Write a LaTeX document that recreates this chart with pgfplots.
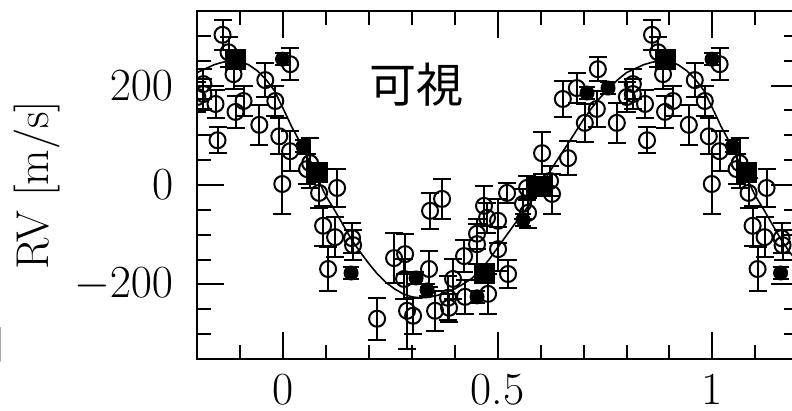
\RequirePackage{fix-cm}
\documentclass[border=0pt]{standalone}
\usepackage{fontspec}
\usepackage{pgfplots}
\usepackage{pgfplotstable}
\pgfplotsset{compat=1.18}
\newfontfamily\cjk{Noto Sans CJK JP}
\newcommand\bigfont{\fontsize{23}{28}\selectfont}

\pgfplotstableread{
x y
-0.20 226
-0.18 234
-0.16 242
-0.14 247
-0.12 250
-0.10 248
-0.08 242
-0.06 230
-0.04 213
-0.02 190
0.00 155
0.02 118
0.04 86
0.06 50
0.08 14
0.10 -22
0.12 -50
0.14 -80
0.16 -110
0.18 -135
0.20 -158
0.22 -179
0.24 -196
0.26 -209
0.28 -219
0.30 -225
0.32 -227
0.34 -226
0.36 -222
0.38 -216
0.40 -209
0.42 -199
0.44 -188
0.46 -171
0.48 -150
0.50 -126
0.52 -102
0.54 -78
0.56 -56
0.58 -31
0.60 -4
0.62 25
0.64 52
0.66 78
0.68 105
0.70 132
0.72 156
0.74 177
0.76 195
0.78 212
0.80 226
0.82 234
0.84 242
0.86 247
0.88 250
0.90 248
0.92 242
0.94 230
0.96 213
0.98 190
1.00 155
1.02 118
1.04 86
1.06 50
1.08 14
1.10 -22
1.12 -50
1.14 -80
1.16 -110
1.18 -135
1.20 -158
}\curve

\pgfplotstableread{
x y e
0.0168 243 32
0.0168 68 40
0.0633 44 50
0.0563 32 30
0.0843 -16 30
0.1262 -6 38
0.0936 -82 40
0.1215 -105 40
0.1611 -107 30
0.1634 -121 30
0.1052 -169 44
0.2193 -269 42
0.2588 -147 50
0.2845 -139 40
0.2821 -189 40
0.2891 -253 76
0.3031 -263 36
0.3403 -169 36
0.3426 -52 36
0.3706 -28 40
0.3543 -253 40
0.3846 -227 44
0.3869 -247 28
0.3962 -189 40
0.4218 -143 32
0.4241 -225 34
0.4520 -119 40
0.4520 -98 30
0.4683 -42 40
0.4753 -66 30
0.5009 -72 44
0.4777 -219 40
0.5009 -129 44
0.5242 -179 28
0.5219 -16 20
0.5591 -38 30
0.5708 -56 30
0.5684 -6 24
0.6220 8 30
0.6266 -18 40
0.6034 64 42
0.6639 54 34
0.6518 173 36
0.6844 195 30
0.7333 233 24
0.7309 153 36
0.7030 125 38
0.7775 125 40
0.8148 203 30
0.8148 183 30
0.8008 177 30
0.8431 163 28
0.8478 90 26
0.8594 302 30
0.8734 267 30
0.8850 223 30
0.9084 169 30
0.8897 147 32
0.9451 121 40
0.9590 211 34
0.9823 169 30
0.9916 98 36
0.9986 2 60
1.0168 243 32
1.0168 68 40
1.0633 44 50
1.0563 32 30
1.0843 -16 30
1.1262 -6 38
1.0936 -82 40
1.1215 -105 40
1.1611 -107 30
1.1634 -121 30
1.1052 -169 44
-0.1852 203 30
-0.1852 183 30
-0.1992 177 30
-0.1569 163 28
-0.1522 90 26
-0.1406 302 30
-0.1266 267 30
-0.1150 223 30
-0.0916 169 30
-0.1103 147 32
-0.0549 121 40
-0.0410 211 34
-0.0177 169 30
-0.0084 98 36
-0.0014 2 60
}\opendata

\pgfplotstableread{
x y e
0.0470 78 12
0.1587 -177 12
0.3101 -187 12
0.3357 -211 12
0.4520 -225 12
0.5592 -70 12
0.7081 185 12
0.7570 195 12
0.9993 253 12
1.0470 78 12
1.1587 -177 12
-0.0007 253 12
}\filleddata

\pgfplotstableread{
x y
0.0797 26
0.4683 -177
0.5940 -2
0.8897 253
1.0797 26
-0.1103 253
}\squaredata

\begin{document}
\begin{tikzpicture}
\useasboundingbox (-98.5pt,-26pt) rectangle (297.5pt,179.5pt);
\clip (-98.5pt,-26pt) rectangle (297.5pt,179.5pt);
\begin{axis}[
  at={(0pt,0pt)}, anchor=south west,
  scale only axis,
  width=300.65pt, height=174pt,
  xmin=-0.2, xmax=1.2, ymin=-350, ymax=350,
  xtick={0,0.5,1}, xticklabels={0,0.5,1},
  ytick={-200,0,200},
  minor xtick={-0.2,-0.1,...,1.21},
  minor ytick={-350,-300,...,350},
  tick align=inside,
  xtick pos=both, ytick pos=both,
  major tick length=13.5pt, minor tick length=7pt,
  every tick/.style={black, line width=1pt},
  axis line style={line width=1pt},
  tick label style={font=\bigfont},
  yticklabel style={xshift=-8.4pt},
  xticklabel style={yshift=-3.8pt},
  ylabel={RV [m/s]},
  every axis y label/.style={at={(axis description cs:-0.2653,0.5)}, rotate=90, anchor=center, font=\bigfont},
  clip marker paths=true,
]
\addplot[black, line width=0.8pt, no markers] table[x=x,y=y] {\curve};
\addplot[black, only marks, mark=o, mark size=4pt, line width=1pt,
  error bars/.cd, y dir=both, y explicit,
  error bar style={line width=1pt},
  error mark options={rotate=90, mark size=4.5pt, line width=1pt}]
  table[x=x,y=y,y error=e] {\opendata};
\addplot[black, only marks, mark=*, mark size=3.5pt, line width=0.5pt,
  error bars/.cd, y dir=both, y explicit,
  error bar style={line width=1pt},
  error mark options={rotate=90, mark size=4pt, line width=1pt}]
  table[x=x,y=y,y error=e] {\filleddata};
\addplot[black, only marks, mark=square*, mark size=5pt]
  table[x=x,y=y] {\squaredata};
\node[font=\cjk\fontsize{23.5}{28}\selectfont] at (axis cs:0.31,201) {可視};
\end{axis}
\node[anchor=east, inner sep=0pt, text=gray, font=\LARGE] at (-96pt,7pt) {]};
\end{tikzpicture}
\end{document}
